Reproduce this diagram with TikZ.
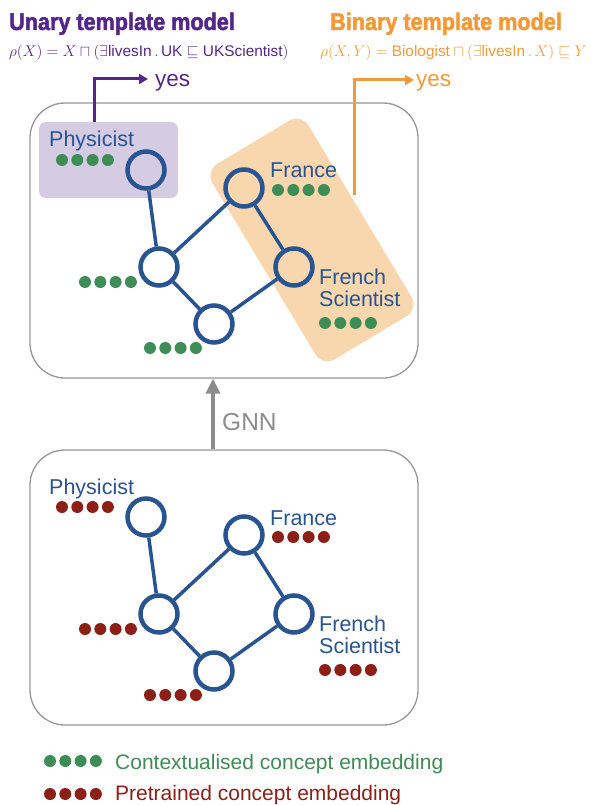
\documentclass[tikz,border=0pt]{standalone}
\usepackage{fontspec}
\setmainfont{Liberation Sans}
\setsansfont{Liberation Sans}
\newfontfamily\titlefont[FakeBold=2,FakeStretch=0.9]{Liberation Sans Bold}
\usetikzlibrary{arrows.meta}
\definecolor{upurple}{RGB}{84,38,140}
\definecolor{borange}{RGB}{242,154,58}
\definecolor{nblue}{RGB}{40,84,145}
\definecolor{egreen}{RGB}{62,140,86}
\definecolor{ered}{RGB}{140,32,22}
\definecolor{pfill}{RGB}{213,204,228}
\definecolor{ofill}{RGB}{249,215,174}
\definecolor{boxgray}{RGB}{150,150,150}
\definecolor{gnngray}{RGB}{140,140,140}
\tikzset{
  bigbox/.style={draw=boxgray, line width=1.3pt, rounded corners=35pt, minimum width=388pt, minimum height=275pt, inner sep=0pt},
  gnode/.style={circle, draw=nblue, line width=4.5pt, minimum size=37pt, inner sep=0pt},
  gedge/.style={draw=nblue, line width=3.5pt},
  lbl/.style={text=nblue, font=\fontsize{21.5}{22}\selectfont, inner sep=0pt},
  ttl/.style={font=\titlefont\fontsize{24}{28}\selectfont, inner sep=0pt, anchor=base west},
  frm/.style={font=\fontsize{14.4}{18}\selectfont, inner sep=0pt, anchor=base west, scale=1.07, transform shape},
  yestxt/.style={font=\fontsize{22.5}{26}\selectfont, inner sep=0pt, anchor=base west},
  yesarrow/.style={line width=3pt, -{Triangle[length=9pt,width=10pt]}},
  legtxt/.style={font=\fontsize{21}{24}\selectfont, inner sep=0pt, anchor=base west}
}
\newcommand\embrow[3]{%
  \foreach \k in {0,...,3}{\fill[#3] ({#1+15.3*\k},#2) circle (6pt);}}
\newcommand\conceptgraph[2]{%
  \node[gnode] (#1phys) at (146,170) {};
  \node[gnode] (#1left) at (159,267) {};
  \node[gnode] (#1fra) at (244,188) {};
  \node[gnode] (#1fsci) at (294,267) {};
  \node[gnode] (#1bot) at (214,324) {};
  \draw[gedge] (#1phys) -- (#1left);
  \draw[gedge] (#1left) -- (#1fra);
  \draw[gedge] (#1fra) -- (#1fsci);
  \draw[gedge] (#1left) -- (#1bot);
  \draw[gedge] (#1bot) -- (#1fsci);
  \node[lbl, anchor=base west] (#1physl) at (49,147) {Physicist};
  \node[lbl, anchor=base west] (#1fral) at (270,178) {France};
  \node[lbl, anchor=west, align=left] (#1fscil) at (319,288) {French\\Scientist};
  \embrow{62}{160}{#2}
  \embrow{278}{190}{#2}
  \embrow{85}{282}{#2}
  \embrow{150}{348}{#2}
  \embrow{325}{323}{#2}
}
\begin{document}
\begin{tikzpicture}[x=1pt,y=-1pt]
\useasboundingbox (0,0) rectangle (592,805);
% titles
\node[ttl, text=upurple] (t1) at (9,30) {Unary template model};
\node[ttl, text=borange] (t2) at (330,30) {Binary template model};
\node[frm, text=upurple] (f1) at (9,57) {$\rho(X) = X \sqcap (\exists\mathsf{livesIn}\,.\,\mathsf{UK} \sqsubseteq \mathsf{UKScientist})$};
\node[frm, text=borange] (f2) at (320,57) {$\rho(X,Y) = \mathsf{Biologist} \sqcap (\exists\mathsf{livesIn}\,.\,X) \sqsubseteq Y$};
\node[yestxt, text=upurple] (yes1) at (155,87) {yes};
\node[yestxt, text=borange] (yes2) at (416,87) {yes};
% boxes
\node[bigbox] (topbox) at (224,240.5) {};
\node[bigbox] (botbox) at (224,587.5) {};
% highlight regions
\node[fill=pfill, rounded corners=7pt, minimum width=139pt, minimum height=76pt, inner sep=0pt] (pbox) at (108.5,160) {};
\node[fill=ofill, rounded corners=14pt, rotate=-59, minimum width=228pt, minimum height=112pt, inner sep=0pt] (obox) at (312,240) {};
% graphs
\conceptgraph{u}{egreen}
\begin{scope}[yshift=-347pt]
\conceptgraph{b}{ered}
\end{scope}
% yes arrows
\coordinate (px) at (94,0);
\coordinate (p1) at (148,79);
\draw[upurple, yesarrow] (pbox.north -| px) |- (p1);
\coordinate (ostart) at (354,195);
\coordinate (o1) at (414,80);
\draw[borange, yesarrow] (ostart) |- (o1);
% GNN arrow
\coordinate (gx) at (213,0);
\draw[gnngray, line width=4pt, -{Triangle[length=15pt,width=14pt]}] (botbox.north -| gx) -- (topbox.south -| gx);
\node[anchor=base west, text=gnngray, font=\fontsize{24.5}{28}\selectfont, inner sep=0pt] (gnn) at (222,430) {GNN};
% legend
\embrow{50}{761}{egreen}
\node[legtxt, text=egreen] (leg1) at (115,769) {Contextualised concept embedding};
\embrow{50}{794}{ered}
\node[legtxt, text=ered] (leg2) at (115,800) {Pretrained concept embedding};
\end{tikzpicture}
\end{document}
